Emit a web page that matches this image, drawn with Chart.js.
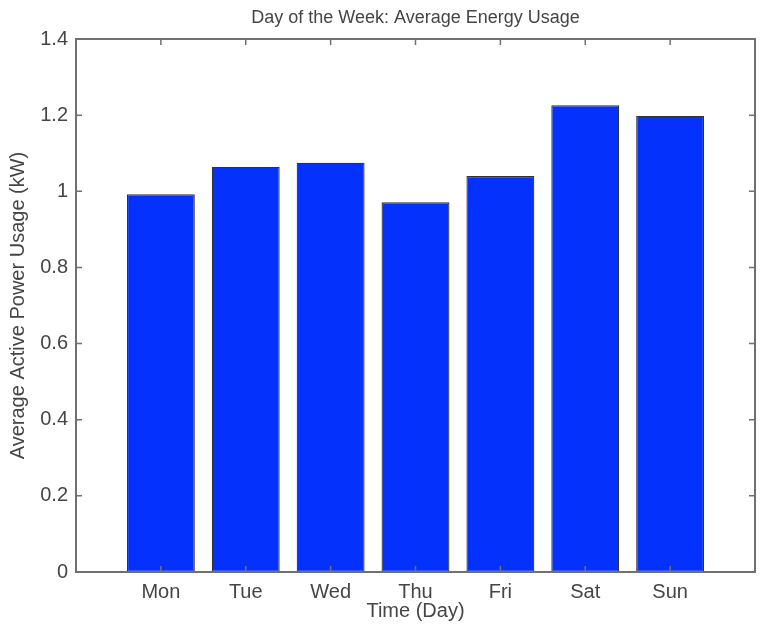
<!DOCTYPE html>
<html>
<head>
<meta charset="utf-8">
<script src="https://cdn.jsdelivr.net/npm/chart.js@4"></script>
<style>
  html, body { margin: 0; padding: 0; background: #fff; }
  #wrap { width: 761px; height: 632px; }
</style>
</head>
<body>
<div id="wrap"><canvas id="energyChart" width="761" height="632"></canvas></div>
<script>
const days = ['Mon', 'Tue', 'Wed', 'Thu', 'Fri', 'Sat', 'Sun'];
const usage = [0.992, 1.064, 1.075, 0.971, 1.040, 1.226, 1.198];
const yTicks = [0, 0.2, 0.4, 0.6, 0.8, 1, 1.2, 1.4];

const textColor = '#454545';
const axisColor = '#707070';
const fontFamily = 'Liberation Sans, Arial, sans-serif';

// MATLAB-style box with inward ticks on all four sides
const boxPlugin = {
    id: 'box',
    afterLayout(chart) {
        // centre the title over the plot area, not the whole canvas
        if (chart.titleBlock) {
            chart.titleBlock.left = chart.chartArea.left;
            chart.titleBlock.right = chart.chartArea.right;
        }
    },
    afterDatasetsDraw(chart) {
        const { ctx, chartArea: a, scales } = chart;
        const len = 6;
        ctx.save();
        ctx.strokeStyle = axisColor;
        ctx.lineWidth = 1.5;
        ctx.beginPath();
        scales.y.ticks.forEach(t => {
            const y = scales.y.getPixelForValue(t.value);
            ctx.moveTo(a.left, y); ctx.lineTo(a.left + len, y);
            ctx.moveTo(a.right, y); ctx.lineTo(a.right - len, y);
        });
        scales.x.ticks.forEach(t => {
            const x = scales.x.getPixelForValue(t.value);
            ctx.moveTo(x, a.bottom); ctx.lineTo(x, a.bottom - len);
            ctx.moveTo(x, a.top); ctx.lineTo(x, a.top + len);
        });
        ctx.stroke();
        ctx.lineWidth = 2;
        ctx.strokeRect(a.left, a.top, a.right - a.left, a.bottom - a.top);
        ctx.restore();
    }
};

new Chart(document.getElementById('energyChart'), {
    type: 'bar',
    data: {
        datasets: [{
            data: usage.map((v, i) => ({ x: i + 1, y: v })),
            backgroundColor: '#0432fc',
            borderColor: '#333333',
            borderWidth: 1.2,
            borderSkipped: false,
            barPercentage: 1,
            categoryPercentage: 0.8
        }]
    },
    options: {
        responsive: false,
        animation: false,
        layout: { padding: { left: 0, right: 6, top: 0, bottom: 0 } },
        plugins: {
            legend: { display: false },
            tooltip: { enabled: false },
            title: {
                display: true,
                text: 'Day of the Week: Average Energy Usage',
                color: textColor,
                font: { family: fontFamily, size: 18, weight: 'normal' },
                padding: { top: 7, bottom: 10.4 }
            }
        },
        scales: {
            x: {
                type: 'linear',
                min: 0,
                max: days.length + 1,
                offset: false,
                grid: { display: false, drawTicks: false, offset: false },
                border: { display: false },
                afterBuildTicks: s => { s.ticks = days.map((d, i) => ({ value: i + 1 })); },
                afterFit: s => { s.height = 60; },
                ticks: {
                    autoSkip: false,
                    maxRotation: 0,
                    padding: 8,
                    color: textColor,
                    font: { family: fontFamily, size: 20 },
                    callback: v => days[v - 1] || ''
                },
                title: {
                    display: true,
                    text: 'Time (Day)',
                    color: textColor,
                    font: { family: fontFamily, size: 20 },
                    padding: { top: 0, bottom: 9 }
                }
            },
            y: {
                min: 0,
                max: 1.4,
                grid: { display: false, drawTicks: false },
                border: { display: false },
                afterBuildTicks: s => { s.ticks = yTicks.map(v => ({ value: v })); },
                afterFit: s => { s.width = 76; },
                ticks: {
                    padding: 8,
                    color: textColor,
                    font: { family: fontFamily, size: 20 },
                    callback: v => String(Number(v.toFixed(1)))
                },
                title: {
                    display: true,
                    text: 'Average Active Power Usage (kW)',
                    color: textColor,
                    font: { family: fontFamily, size: 20 },
                    padding: { top: 6, bottom: 0 }
                }
            }
        }
    },
    plugins: [boxPlugin]
});
</script>
</body>
</html>
